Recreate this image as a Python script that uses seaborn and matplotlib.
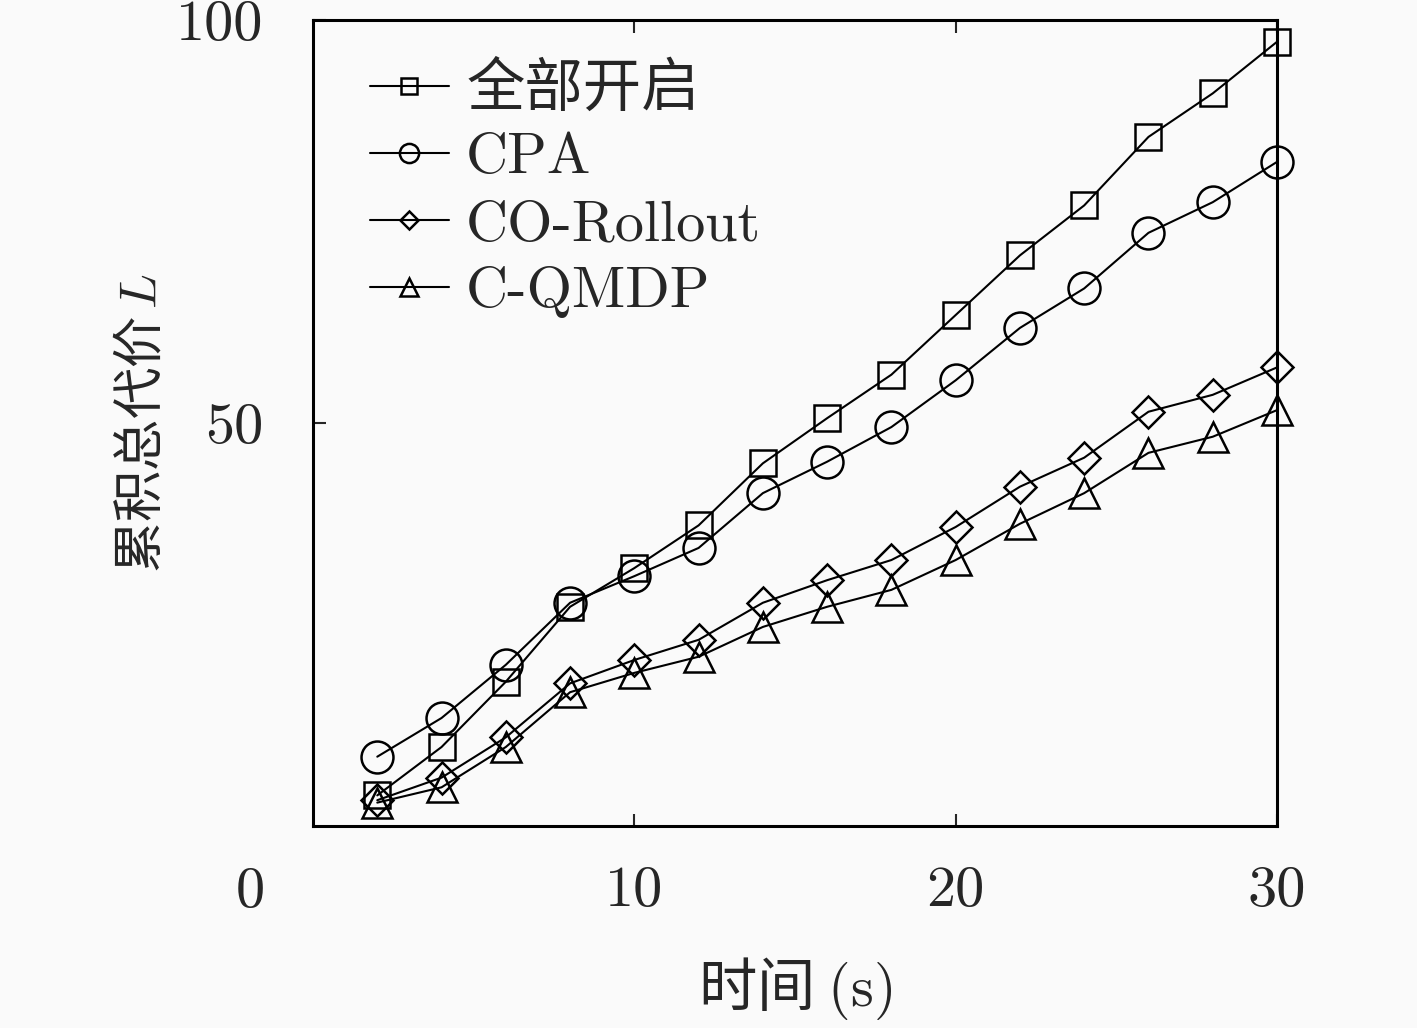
import numpy as np
import pandas as pd
import matplotlib
matplotlib.use("Agg")
import matplotlib.pyplot as plt
import seaborn as sns

# data
time_s = [2, 4, 6, 8, 10, 12, 14, 16, 18, 20, 22, 24, 26, 28, 30]
all_on = [3.8, 9.8, 17.9, 27.2, 32.0, 37.3, 45.0, 50.6, 56.0, 63.4, 70.8, 77.0, 85.5, 90.9, 97.3]
cpa = [8.6, 13.4, 20.0, 27.7, 31.0, 34.5, 41.3, 45.2, 49.5, 55.3, 61.8, 66.7, 73.6, 77.4, 82.4]
co_rollout = [3.2, 6.0, 11.0, 17.7, 20.6, 23.1, 27.7, 30.5, 33.0, 37.1, 42.1, 45.7, 51.4, 53.5, 56.9]
c_qmdp = [2.9, 4.8, 9.8, 16.6, 19.0, 21.0, 24.7, 27.2, 29.3, 33.0, 37.5, 41.3, 46.3, 48.3, 51.6]

series_names = ["全部开启", "CPA", "CO-Rollout", "C-QMDP"]
x_ticks = [10, 20, 30]
x_tick_labels = ["10", "20", "30"]
y_ticks = [50, 100]
y_tick_labels = ["50", "100"]

sns.set_style("ticks")
plt.rcParams['font.family'] = ['cmr10', 'Noto Sans CJK SC', 'DejaVu Sans']
plt.rcParams['mathtext.fontset'] = 'cm'
plt.rcParams['axes.unicode_minus'] = False

FS = 42
bg = "#fafafa"
fig = plt.figure(figsize=(14.17, 10.28), dpi=100, facecolor=bg)
ax = fig.add_axes([0.2209, 0.1965, 0.6803, 0.7840])
ax.set_facecolor(bg)

styles = [("s", 19), ("o", 23), ("D", 16), ("^", 22)]
for name, vals, (mk, ms) in zip(series_names, [all_on, cpa, co_rollout, c_qmdp], styles):
    df = pd.DataFrame({"t": time_s, "v": vals})
    sns.lineplot(data=df, x="t", y="v", ax=ax, color="black", marker=mk,
                 markersize=ms, markerfacecolor="none", markeredgecolor="black",
                 markeredgewidth=1.8, linewidth=1.5, label=name, clip_on=False)

ax.set_xlim(0, 30)
ax.set_ylim(0, 100)
ax.set_xticks(x_ticks, labels=x_tick_labels)
ax.set_yticks(y_ticks, labels=y_tick_labels)
ax.tick_params(axis="x", direction="in", length=9, width=1.5, pad=29,
               labelsize=FS, top=True)
ax.tick_params(axis="y", direction="in", length=9, width=1.5, pad=36,
               labelsize=FS)
for lab in ax.get_xticklabels() + ax.get_yticklabels():
    lab.set_fontfamily("cmr10")
for sp in ax.spines.values():
    sp.set_linewidth(2.2)
    sp.set_color("black")

# lone origin label as in the original
ax.text(-0.065, -0.083, "0", transform=ax.transAxes, ha="center", va="center",
        fontsize=FS, fontfamily="cmr10")

ax.set_xlabel("时间 $(\\mathrm{s})$", fontsize=FS, fontfamily="Noto Sans CJK SC", labelpad=28)
ax.set_ylabel("累积总代价$\\,L$", fontsize=37, fontfamily="Noto Sans CJK SC", labelpad=5)

ax.legend(loc="upper left", bbox_to_anchor=(0.059, 0.948), frameon=False,
          handlelength=1.35, handletextpad=0.3, labelspacing=0.26,
          borderpad=0, borderaxespad=0, markerscale=0.6,
          prop={"family": ['cmr10', 'Noto Sans CJK SC'], "size": FS})

fig.savefig("out.png", dpi=100, facecolor=bg)
